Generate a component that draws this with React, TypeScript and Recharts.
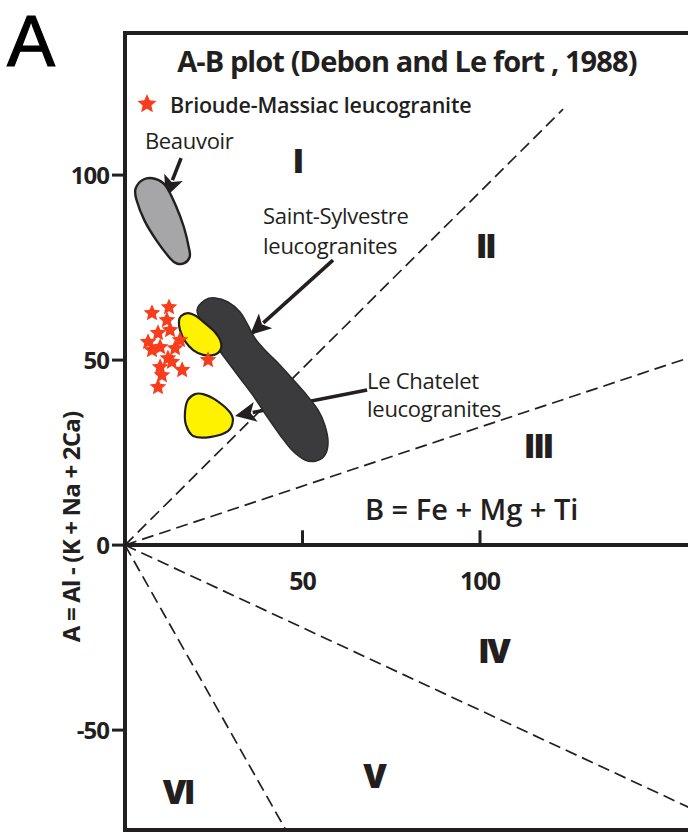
import React from 'react';
import { ComposedChart, Scatter, XAxis, YAxis, ReferenceLine, ReferenceArea } from 'recharts';

const INK = '#231f20';
const FONT = "'Open Sans', 'DejaVu Sans', sans-serif";
const STAR_RED = '#f73d1c';

// Axes
const xDomain = [0, 160];
const yDomain = [-77.0, 138.4];
const yTicks = [-50, 0, 50, 100];
const xTicks = [50, 100];

// Brioude-Massiac leucogranite samples (B, A)
const brioudeStars = [
  { x: 7.6, y: 62.7 }, { x: 12.4, y: 64.3 }, { x: 11.8, y: 60.8 }, { x: 12.7, y: 58.1 },
  { x: 9.3, y: 57.3 }, { x: 6.5, y: 54.9 }, { x: 9.9, y: 53.5 }, { x: 14.1, y: 53.2 },
  { x: 15.5, y: 55.4 }, { x: 12.1, y: 50.5 }, { x: 9.9, y: 48.1 }, { x: 10.4, y: 45.9 },
  { x: 16.1, y: 47.3 }, { x: 9.3, y: 42.7 }, { x: 23.4, y: 50.0 }, { x: 7.6, y: 52.7 },
  { x: 13.2, y: 49.5 },
];
const legendStar = [{ x: 6.2, y: 119.2 }];

// Field outlines (B, A)
const beauvoirField = [
  { x: 5.2, y: 98.8 }, { x: 8.4, y: 99.0 }, { x: 11.4, y: 97.2 }, { x: 14.3, y: 91.8 },
  { x: 16.6, y: 85.9 }, { x: 18.1, y: 79.9 }, { x: 18.2, y: 77.8 }, { x: 16.7, y: 76.2 },
  { x: 14.6, y: 76.1 }, { x: 12.8, y: 77.4 }, { x: 8.9, y: 82.3 }, { x: 5.5, y: 87.7 },
  { x: 3.2, y: 93.4 }, { x: 3.0, y: 96.4 },
];
const saintSylvestreField = [
  { x: 20.3, y: 63.5 }, { x: 22.0, y: 59.5 }, { x: 24.5, y: 55.4 }, { x: 28.2, y: 50.5 },
  { x: 32.4, y: 45.1 }, { x: 36.6, y: 39.7 }, { x: 40.3, y: 34.3 }, { x: 43.7, y: 29.7 },
  { x: 47.0, y: 25.7 }, { x: 50.7, y: 23.0 }, { x: 53.8, y: 22.7 }, { x: 56.3, y: 24.3 },
  { x: 57.2, y: 27.8 }, { x: 56.3, y: 32.4 }, { x: 54.4, y: 36.5 }, { x: 50.7, y: 41.1 },
  { x: 47.0, y: 45.1 }, { x: 43.1, y: 49.2 }, { x: 39.4, y: 52.7 }, { x: 36.6, y: 55.9 },
  { x: 34.6, y: 59.5 }, { x: 32.4, y: 63.0 }, { x: 29.0, y: 65.7 }, { x: 25.4, y: 66.8 },
  { x: 22.5, y: 66.2 },
];
const chateletFieldUpper = [
  { x: 15.8, y: 61.9 }, { x: 17.7, y: 62.7 }, { x: 20.0, y: 61.9 }, { x: 22.5, y: 60.0 },
  { x: 25.1, y: 57.8 }, { x: 26.8, y: 55.4 }, { x: 27.0, y: 53.0 }, { x: 25.1, y: 51.4 },
  { x: 22.0, y: 51.4 }, { x: 19.2, y: 52.7 }, { x: 16.9, y: 55.1 }, { x: 15.5, y: 58.1 },
  { x: 15.2, y: 60.5 },
];
const chateletFieldLower = [
  { x: 19.7, y: 40.8 }, { x: 17.7, y: 39.2 }, { x: 16.9, y: 35.9 }, { x: 17.2, y: 32.4 },
  { x: 19.2, y: 29.5 }, { x: 23.9, y: 29.2 }, { x: 29.0, y: 30.8 }, { x: 30.4, y: 33.8 },
  { x: 29.3, y: 36.2 }, { x: 25.1, y: 39.5 }, { x: 22.0, y: 40.8 },
];

// Dashed domain boundaries, from the origin to these end points
const boundaryEnds = [
  { x: 123.4, y: 117.8 },
  { x: 160, y: 51.0 },
  { x: 160, y: -71.4 },
  { x: 45.3, y: -77.0 },
];

// Arrows (tail -> head)
const arrows = [
  { from: { x: 15.8, y: 104.6 }, to: { x: 11.5, y: 94.1 } },
  { from: { x: 58.6, y: 77.0 }, to: { x: 35.2, y: 56.8 } },
  { from: { x: 68.2, y: 41.9 }, to: { x: 31.0, y: 34.9 } },
];

// Text annotations
const titleText = [{ x: 79.4, y: 131.0, text: 'A-B plot (Debon and Le fort , 1988)' }];
const legendText = [{ x: 12.7, y: 119.2, text: 'Brioude-Massiac leucogranite' }];
const fieldLabels = [
  { x: 5.6, y: 109.5, text: 'Beauvoir' },
  { x: 38.9, y: 89.2, text: 'Saint-Sylvestre' },
  { x: 38.9, y: 81.1, text: 'leucogranites' },
  { x: 68.2, y: 44.6, text: 'Le Chatelet' },
  { x: 68.2, y: 37.0, text: 'leucogranites' },
];
const formulaText = [{ x: 67.6, y: 10.0, text: 'B = Fe + Mg + Ti' }];
const regionLabels = [
  { x: 48.5, y: 104.1, text: 'I' },
  { x: 101.4, y: 81.1, text: 'II' },
  { x: 116.3, y: 27.0, text: 'III' },
  { x: 103.7, y: -28.4, text: 'IV' },
  { x: 70.1, y: -62.2, text: 'V' },
  { x: 14.9, y: -66.5, text: 'VI' },
];
const xTickLabels = xTicks.map((t) => ({ x: t, y: 0, text: String(t) }));
const yAxisTitle = 'A = Al - (K + Na + 2Ca)';

function closedPath(pts: { x: number; y: number }[]) {
  const n = pts.length;
  if (!n) return '';
  let d = `M${pts[0].x},${pts[0].y}`;
  for (let i = 0; i < n; i++) {
    const p0 = pts[(i - 1 + n) % n];
    const p1 = pts[i];
    const p2 = pts[(i + 1) % n];
    const p3 = pts[(i + 2) % n];
    const t = 1 / 6;
    const c1x = p1.x + (p2.x - p0.x) * t;
    const c1y = p1.y + (p2.y - p0.y) * t;
    const c2x = p2.x - (p3.x - p1.x) * t;
    const c2y = p2.y - (p3.y - p1.y) * t;
    d += `C${c1x},${c1y} ${c2x},${c2y} ${p2.x},${p2.y}`;
  }
  return d + 'Z';
}

const fieldLine = (fill: string, stroke: string, sw: number) => (p: any) => (
  <path d={closedPath(p.points || [])} fill={fill} stroke={stroke} strokeWidth={sw} strokeLinejoin="round" />
);

const Empty = () => <g />;

const makeStar = (R: number) => (props: any) => {
  const { cx, cy } = props;
  if (cx == null || cy == null) return <g />;
  const r = R * 0.46;
  let d = '';
  for (let i = 0; i < 10; i++) {
    const a = -Math.PI / 2 + (i * Math.PI) / 5;
    const rad = i % 2 === 0 ? R : r;
    d += `${i === 0 ? 'M' : 'L'}${cx + rad * Math.cos(a)},${cy + rad * Math.sin(a)}`;
  }
  return <path d={d + 'Z'} fill={STAR_RED} />;
};
const SampleStar = makeStar(8.8);
const LegendStarShape = makeStar(10);

const makeText = (style: any, dy = 0) => (props: any) => {
  const { cx, cy, payload } = props;
  return (
    <text x={cx} y={cy + dy} dominantBaseline="central" fill={INK} fontFamily={FONT} {...style}>
      {payload.text}
    </text>
  );
};

const TitleShape = makeText({ fontSize: 29, fontWeight: 700, letterSpacing: -0.9, textAnchor: 'middle' });
const LegendShape = makeText({ fontSize: 21.5, fontWeight: 600, letterSpacing: -0.2, textAnchor: 'start' });
const FieldShape = makeText({ fontSize: 22, fontWeight: 500, letterSpacing: -0.3, textAnchor: 'start' });
const FormulaShape = makeText({ fontSize: 29, fontWeight: 600, letterSpacing: 0, textAnchor: 'start' });
const RegionShape = makeText({ fontSize: 34, fontWeight: 800, letterSpacing: -2.5, textAnchor: 'middle' });
const XTickShape = makeText({ fontSize: 25, fontWeight: 700, letterSpacing: -1, textAnchor: 'middle' }, 35);

const ArrowShape = (props: any) => {
  const { x1, y1, x2, y2 } = props;
  const dx = x2 - x1;
  const dy = y2 - y1;
  const len = Math.hypot(dx, dy) || 1;
  const ux = dx / len;
  const uy = dy / len;
  const hl = 21;
  const hw = 10;
  const bx = x2 - ux * hl;
  const by = y2 - uy * hl;
  return (
    <g>
      <line x1={x1} y1={y1} x2={bx + ux * 3} y2={by + uy * 3} stroke={INK} strokeWidth={3.6} />
      <path
        d={`M${x2},${y2} L${bx - uy * hw},${by + ux * hw} L${bx + ux * 5},${by + uy * 5} L${bx + uy * hw},${by - ux * hw} Z`}
        fill={INK}
      />
    </g>
  );
};

const YTitle = () => (
  <text
    x={70}
    y={527}
    transform="rotate(-90, 70, 527)"
    textAnchor="middle"
    dominantBaseline="central"
    fill={INK}
    fontFamily={FONT}
    fontSize={24}
    fontWeight={700}
    letterSpacing={-0.8}
  >
    {yAxisTitle}
  </text>
);

export default function App() {
  return (
    <div
      style={{
        position: 'fixed',
        left: 0,
        top: 0,
        width: 688,
        height: 836,
        overflow: 'hidden',
        background: '#fff',
      }}
    >
      <ComposedChart width={700} height={836} margin={{ top: 33, right: 7, bottom: 6, left: 0 }}>
        <XAxis xAxisId={0} dataKey="x" type="number" domain={xDomain} allowDataOverflow hide height={0} />
        <YAxis
          dataKey="y"
          type="number"
          domain={yDomain}
          allowDataOverflow
          ticks={yTicks}
          interval={0}
          width={125}
          tickSize={13}
          tickMargin={3}
          tickLine={{ stroke: INK, strokeWidth: 3 }}
          axisLine={{ stroke: INK, strokeWidth: 4 }}
          tick={{ fill: INK, fontSize: 24, fontWeight: 700, fontFamily: FONT, letterSpacing: -1 }}
          label={<YTitle />}
        />

        {/* plot frame, and the B axis at A = 0 */}
        <ReferenceArea
          x1={xDomain[0]}
          x2={xDomain[1]}
          y1={yDomain[0]}
          y2={yDomain[1]}
          fill="none"
          fillOpacity={0}
          stroke={INK}
          strokeWidth={4}
          ifOverflow="visible"
        />
        <ReferenceLine y={0} stroke={INK} strokeWidth={4} ifOverflow="visible" />
        {xTicks.map((t) => (
          <ReferenceLine
            key={`xt${t}`}
            segment={[{ x: t, y: 0 }, { x: t, y: 4 }]}
            stroke={INK}
            strokeWidth={3}
            ifOverflow="visible"
          />
        ))}
        {boundaryEnds.map((e, i) => (
          <ReferenceLine
            key={`b${i}`}
            segment={[{ x: 0, y: 0 }, e]}
            stroke={INK}
            strokeWidth={1.7}
            strokeDasharray="12 6"
            ifOverflow="visible"
          />
        ))}

        <Scatter data={beauvoirField} isAnimationActive={false} shape={Empty} line={fieldLine('#a6a6a8', INK, 2.4)} lineType="joint" />
        <Scatter data={saintSylvestreField} isAnimationActive={false} shape={Empty} line={fieldLine('#3b3b3d', '#2a2a2b', 1.5)} lineType="joint" />
        <Scatter data={chateletFieldUpper} isAnimationActive={false} shape={Empty} line={fieldLine('#fff200', INK, 2.2)} lineType="joint" />
        <Scatter data={chateletFieldLower} isAnimationActive={false} shape={Empty} line={fieldLine('#fff200', INK, 2.2)} lineType="joint" />

        {arrows.map((a, i) => (
          <ReferenceLine key={`a${i}`} segment={[a.from, a.to]} shape={ArrowShape} ifOverflow="visible" />
        ))}

        <Scatter data={brioudeStars} isAnimationActive={false} shape={SampleStar} />
        <Scatter data={legendStar} isAnimationActive={false} shape={LegendStarShape} />

        <Scatter data={titleText} isAnimationActive={false} shape={TitleShape} />
        <Scatter data={legendText} isAnimationActive={false} shape={LegendShape} />
        <Scatter data={fieldLabels} isAnimationActive={false} shape={FieldShape} />
        <Scatter data={formulaText} isAnimationActive={false} shape={FormulaShape} />
        <Scatter data={regionLabels} isAnimationActive={false} shape={RegionShape} />
        <Scatter data={xTickLabels} isAnimationActive={false} shape={XTickShape} />
      </ComposedChart>
      <div
        style={{
          position: 'absolute',
          left: 7,
          top: 0,
          fontSize: 72,
          lineHeight: 'normal',
          fontFamily: "'Liberation Sans', Arial, sans-serif",
          fontWeight: 400,
          color: '#000',
          WebkitTextStroke: '1.2px #000',
        }}
      >
        A
      </div>
    </div>
  );
}
